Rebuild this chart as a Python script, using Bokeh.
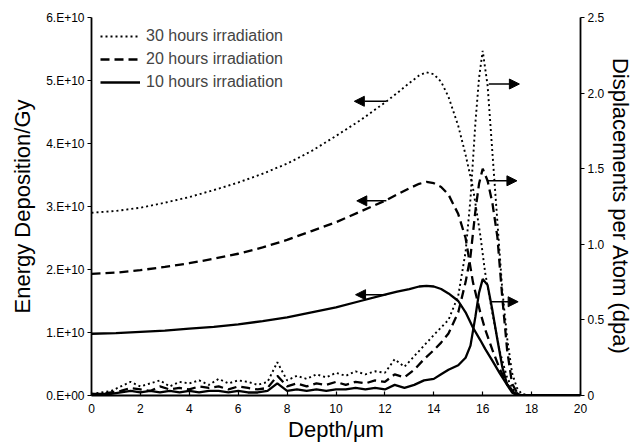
from bokeh.plotting import figure
from bokeh.models import (Range1d, LinearAxis, FixedTicker, CustomJSTickFormatter,
                          Arrow, NormalHead, Legend, LegendItem)
from bokeh.embed import file_html
from bokeh.resources import INLINE

# ---------------- data ----------------
# Energy deposition (units of 1E10 Gy) vs depth (um)
depth_e = [0, 1, 2, 3, 4, 5, 6, 7, 8, 9, 10, 11, 12, 12.5, 13, 13.4, 13.7, 14, 14.3, 14.6,
           15.0, 15.3, 15.6, 15.9, 16.1, 16.4, 16.7, 17.0, 17.3, 17.6, 18, 20]
energy_30h = [2.90, 2.93, 2.98, 3.06, 3.15, 3.26, 3.38, 3.52, 3.68, 3.88, 4.12, 4.37, 4.65, 4.80,
              4.96, 5.08, 5.13, 5.10, 4.98, 4.74, 4.28, 3.82, 3.30, 2.55, 1.95, 1.30, 0.70, 0.28,
              0.06, 0.0, 0.0, 0.0]
energy_20h = [1.93, 1.95, 1.99, 2.04, 2.10, 2.17, 2.25, 2.35, 2.47, 2.61, 2.75, 2.92, 3.09, 3.19,
              3.29, 3.36, 3.39, 3.37, 3.31, 3.19, 2.88, 2.50, 1.80, 1.32, 1.05, 0.72, 0.42, 0.18,
              0.04, 0.0, 0.0, 0.0]
energy_10h = [0.98, 0.99, 1.01, 1.03, 1.06, 1.09, 1.13, 1.18, 1.24, 1.32, 1.40, 1.50, 1.60, 1.65,
              1.69, 1.73, 1.74, 1.73, 1.69, 1.62, 1.50, 1.32, 1.08, 0.88, 0.74, 0.55, 0.35, 0.17,
              0.04, 0.0, 0.0, 0.0]

# Displacements per atom vs depth (um)
depth_d = [0, 0.4, 0.8, 1.2, 1.6, 2.0, 2.4, 2.8, 3.2, 3.6, 4.0, 4.4, 4.8, 5.2, 5.6, 6.0, 6.4, 6.8,
           7.2, 7.6, 8.0, 8.4, 8.8, 9.2, 9.6, 10.0, 10.4, 10.8, 11.2, 11.6, 12.0, 12.4, 12.8,
           13.2, 13.6, 14.0, 14.3, 14.6, 15.0, 15.3, 15.5, 15.7, 15.85, 16.0, 16.2, 16.4, 16.6,
           16.8, 17.0, 17.2, 17.4, 17.6, 18.0, 20.0]
dpa_30h = [0.01, 0.02, 0.03, 0.06, 0.09, 0.06, 0.08, 0.10, 0.06, 0.09, 0.08, 0.10, 0.07, 0.11,
           0.08, 0.10, 0.09, 0.07, 0.09, 0.22, 0.10, 0.13, 0.11, 0.14, 0.12, 0.15, 0.13, 0.16,
           0.14, 0.16, 0.15, 0.24, 0.19, 0.26, 0.33, 0.40, 0.45, 0.50, 0.66, 0.95, 1.30, 1.80,
           2.10, 2.28, 2.05, 1.60, 1.15, 0.70, 0.38, 0.15, 0.05, 0.01, 0.0, 0.0]
dpa_20h = [0.01, 0.01, 0.02, 0.03, 0.05, 0.04, 0.03, 0.06, 0.04, 0.05, 0.04, 0.06, 0.05, 0.06,
           0.04, 0.06, 0.05, 0.04, 0.05, 0.13, 0.06, 0.08, 0.06, 0.08, 0.07, 0.09, 0.07, 0.09,
           0.08, 0.10, 0.09, 0.14, 0.12, 0.17, 0.24, 0.30, 0.35, 0.41, 0.55, 0.75, 0.92, 1.22,
           1.40, 1.50, 1.42, 1.27, 1.05, 0.65, 0.30, 0.08, 0.02, 0.0, 0.0, 0.0]
dpa_10h = [0.0, 0.01, 0.01, 0.02, 0.03, 0.02, 0.03, 0.02, 0.03, 0.02, 0.03, 0.02, 0.03, 0.03,
           0.02, 0.03, 0.02, 0.02, 0.03, 0.08, 0.03, 0.04, 0.03, 0.04, 0.03, 0.04, 0.04, 0.05,
           0.04, 0.05, 0.04, 0.07, 0.05, 0.07, 0.10, 0.11, 0.14, 0.17, 0.20, 0.25, 0.33, 0.52,
           0.68, 0.77, 0.73, 0.56, 0.37, 0.19, 0.07, 0.02, 0.0, 0.0, 0.0, 0.0]

series_labels = ["30 hours irradiation", "20 hours irradiation", "10 hours irradiation"]

# arrows: (x start, x end, y, axis)
arrow_x0 = [12.06, 12.06, 12.06, 16.25, 16.17, 16.33]
arrow_x1 = [10.75, 10.85, 10.8, 17.5, 17.4, 17.45]
arrow_y = [4.67, 3.09, 1.60, 2.06, 1.42, 0.62]
arrow_axis = ["default", "default", "default", "dpa", "dpa", "dpa"]

x_ticks = [0, 2, 4, 6, 8, 10, 12, 14, 16, 18, 20]
left_ticks = [0, 1, 2, 3, 4, 5, 6]
right_ticks = [0, 0.5, 1.0, 1.5, 2.0, 2.5]

# ---------------- figure ----------------
FONT = "Liberation Sans"
p = figure(width=636, height=445, output_backend="svg", toolbar_location=None,
           x_range=Range1d(0, 20), y_range=Range1d(0, 6),
           min_border_left=91, min_border_right=54, min_border_top=17, min_border_bottom=50,
           background_fill_color="white", border_fill_color="white")
p.extra_y_ranges = {"dpa": Range1d(0, 2.5)}
p.outline_line_color = None
p.xgrid.visible = False
p.ygrid.visible = False

styles = [dict(line_dash="2 3", line_width=1.9),
          dict(line_dash="9 5", line_width=2.3),
          dict(line_dash="solid", line_width=2.3)]

energies = [energy_30h, energy_20h, energy_10h]
dpas = [dpa_30h, dpa_20h, dpa_10h]
items = []
for lab, e, d, st in zip(series_labels, energies, dpas, styles):
    r = p.line(depth_e, e, line_color="black", **st)
    p.line(depth_d, d, line_color="black", y_range_name="dpa", **st)
    items.append(LegendItem(label=lab, renderers=[r]))

legend = Legend(items=items, location="top_left", margin=0, padding=9,
                glyph_width=40, glyph_height=20, spacing=3, label_standoff=6,
                label_text_font=FONT, label_text_font_size="16px",
                background_fill_alpha=0, border_line_alpha=0)
p.add_layout(legend)

for x0, x1, y, ax in zip(arrow_x0, arrow_x1, arrow_y, arrow_axis):
    p.add_layout(Arrow(end=NormalHead(size=10, fill_color="black", line_color="black"),
                       x_start=x0, y_start=y, x_end=x1, y_end=y,
                       line_width=1.5, line_color="black", y_range_name=ax))

# axes
def style_axis(ax):
    ax.axis_line_color = "black"
    ax.axis_line_width = 1.8
    ax.major_tick_line_color = "black"
    ax.major_tick_line_width = 1.2
    ax.minor_tick_line_color = None
    ax.major_label_text_font = FONT
    ax.major_label_text_font_size = "12px"
    ax.axis_label_text_font = FONT
    ax.axis_label_text_font_size = "22px"
    ax.axis_label_text_font_style = "normal"
    ax.axis_label_text_color = "black"
    ax.major_label_text_color = "black"

xa = p.xaxis[0]
style_axis(xa)
xa.ticker = FixedTicker(ticks=x_ticks)
xa.major_tick_in = 4
xa.major_tick_out = 0
xa.axis_label = "Depth/\u03bcm"
xa.major_label_standoff = 8
xa.axis_label_standoff = 1

ya = p.yaxis[0]
style_axis(ya)
ya.ticker = FixedTicker(ticks=left_ticks)
ya.major_tick_in = 0
ya.major_tick_out = 4
ya.formatter = CustomJSTickFormatter(code="return tick.toFixed(0) + (tick == 0 ? '.E+00' : '.E+10');")
ya.axis_label = "Energy Deposition/Gy"
ya.major_label_standoff = 3
ya.axis_label_standoff = 8

ra = LinearAxis(y_range_name="dpa")
style_axis(ra)
ra.ticker = FixedTicker(ticks=right_ticks)
ra.major_tick_in = 0
ra.major_tick_out = 4
ra.formatter = CustomJSTickFormatter(code="return tick == 0 ? '0' : tick.toFixed(1);")
ra.axis_label = "Displacements per Atom (dpa)"
ra.major_label_standoff = 3
ra.axis_label_standoff = 1
p.add_layout(ra, "right")

open("out.html", "w").write(file_html(p, INLINE))
